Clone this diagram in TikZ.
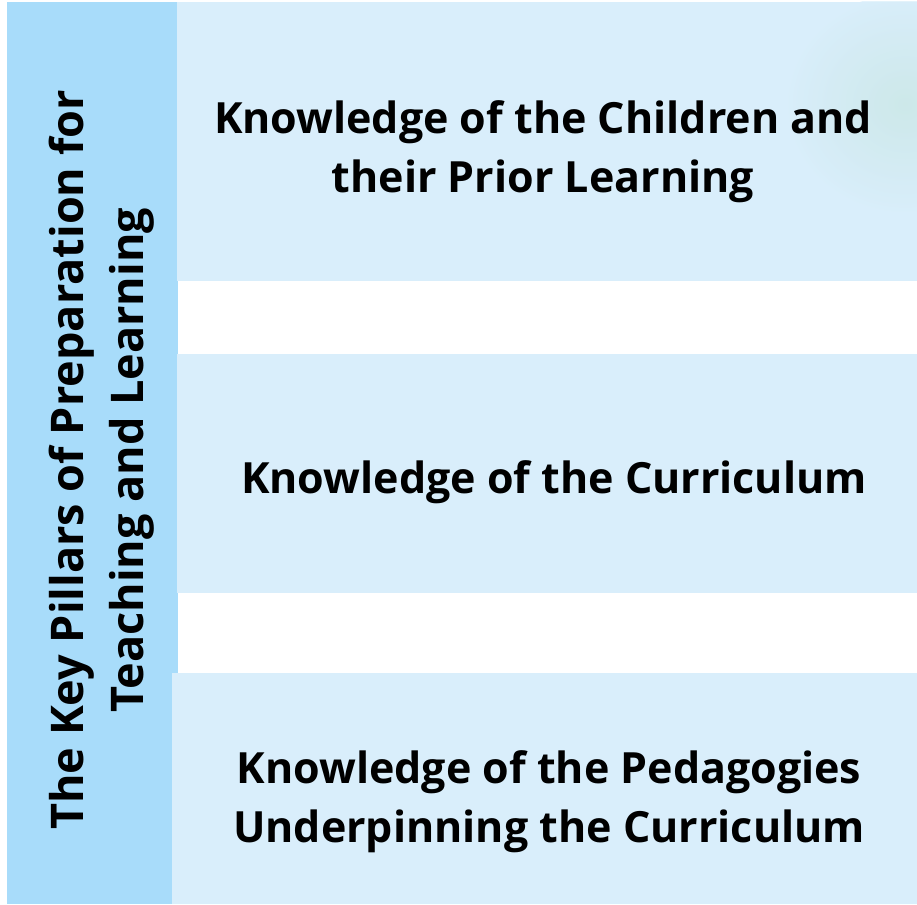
\documentclass[tikz,border=0pt]{standalone}
\usepackage{fontspec}
\setmainfont{Open Sans}[BoldFont={* Bold}]
\begin{document}
\begin{tikzpicture}[x=1pt,y=1pt,
  pillarbar/.style={fill=barblue,draw=none},
  pillarbox/.style={fill=boxblue,draw=none},
  pillartext/.style={font=\bfseries\fontsize{43}{59}\selectfont,align=center,text=black,inner sep=0pt},
  titletext/.style={font=\bfseries\fontsize{45}{60}\selectfont,align=center,text=black,inner sep=0pt,rotate=90}]
\definecolor{barblue}{HTML}{A8DCFA}
\definecolor{boxblue}{HTML}{D9EEFB}
\definecolor{tint}{HTML}{C8E6E2}
\useasboundingbox (0,0) rectangle (917,904);
\fill[white] (0,0) rectangle (917,904);
% side bar
\fill[pillarbar] (7,0) rectangle (178,902);
% three knowledge panels
\fill[pillarbox] (177,623) rectangle (917,902);
\begin{scope}
  \clip (177,623) rectangle (917,902);
  \shade[inner color=tint,outer color=boxblue,opacity=0.7] (905,800) ellipse (120 and 110);
\end{scope}
\fill[pillarbox] (177,311) rectangle (917,550);
\fill[pillarbox] (172,0) rectangle (917,231);
% labels
\node[pillartext] (k1) at (543,752) {Knowledge of the Children and\\their Prior Learning};
\node[pillartext] (k2) at (554,422) {Knowledge of the Curriculum};
\node[pillartext] (k3) at (549,102) {Knowledge of the Pedagogies\\Underpinning the Curriculum};
\node[titletext] (title) at (102,444) {The Key Pillars of Preparation for\\Teaching and Learning};
\end{tikzpicture}
\end{document}
